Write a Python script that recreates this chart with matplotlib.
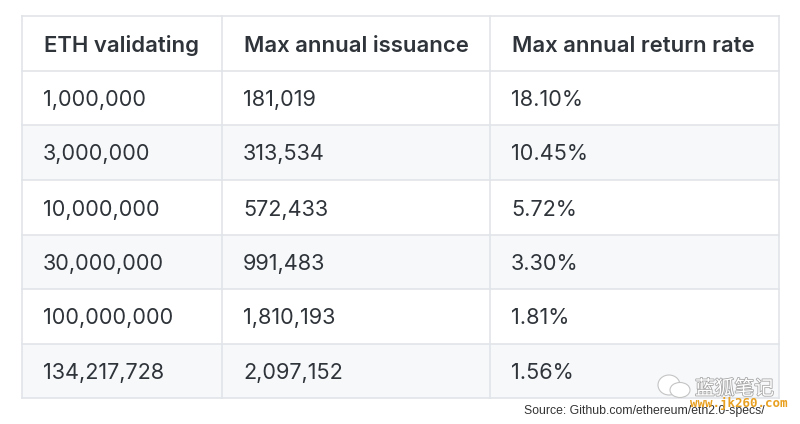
import matplotlib
matplotlib.use('Agg')
import matplotlib.pyplot as plt
import matplotlib.patheffects as pe
from matplotlib.patches import Ellipse, Rectangle

headers = ['ETH validating', 'Max annual issuance', 'Max annual return rate']
eth_validating = ['1,000,000', '3,000,000', '10,000,000', '30,000,000', '100,000,000', '134,217,728']
max_issuance = ['181,019', '313,534', '572,433', '991,483', '1,810,193', '2,097,152']
max_return = ['18.10%', '10.45%', '5.72%', '3.30%', '1.81%', '1.56%']
source = 'Source: Github.com/ethereum/eth2.0-specs/'

col_edges = [22, 222, 490, 779]
row_edges = [16, 71, 125, 180, 235, 289, 344, 398]
line_col = '#e1e4e8'
text_col = '#2f343a'

plt.rcParams['font.family'] = ['Inter', 'DejaVu Sans']

fig = plt.figure(figsize=(8, 4.24), dpi=100)
ax = fig.add_axes([0, 0, 1, 1])
ax.set_xlim(0, 800)
ax.set_ylim(424, 0)
ax.axis('off')

# striped rows
for i in range(len(eth_validating)):
    if i % 2 == 1:
        ax.add_patch(Rectangle((col_edges[0], row_edges[i + 1]), col_edges[-1] - col_edges[0],
                               row_edges[i + 2] - row_edges[i + 1], color='#f6f8fa', lw=0, zorder=0))

# grid
for y in row_edges:
    ax.plot([col_edges[0], col_edges[-1]], [y, y], color=line_col, lw=1.2, zorder=1)
for x in col_edges:
    ax.plot([x, x], [row_edges[0], row_edges[-1]], color=line_col, lw=1.2, zorder=1)

# header and body
for j, h in enumerate(headers):
    ax.text(col_edges[j] + 22, (row_edges[0] + row_edges[1]) / 2 + 2, h, fontsize=15.9,
            fontweight='semibold', color=text_col, va='center', ha='left')
for i in range(len(eth_validating)):
    yc = (row_edges[i + 1] + row_edges[i + 2]) / 2 + 2
    row = [eth_validating[i], max_issuance[i], max_return[i]]
    for j, s in enumerate(row):
        ax.text(col_edges[j] + 21, yc, s, fontsize=15.6, color=text_col, va='center', ha='left')

ax.text(524, 411, source, fontsize=8.8, color='#333333', family='Liberation Sans', va='center', ha='left')

# watermark
halo = [pe.withStroke(linewidth=1.2, foreground='#a8a8a8')]
ax.add_patch(Ellipse((669, 385), 22, 20, fc='white', ec='#c4c4c4', lw=0.8, zorder=3))
ax.add_patch(Ellipse((680, 390), 20, 15, fc='white', ec='#c4c4c4', lw=0.8, zorder=3))
ax.text(695, 389, '蓝狐笔记', fontsize=14.2, color='white', family=['Noto Sans CJK SC', 'DejaVu Sans'],
        va='center', ha='left', path_effects=halo, zorder=4)
ax.text(690, 404, 'www.jk260.com', fontsize=9, color='#e8a020', fontweight='bold',
        family='DejaVu Sans Mono', va='center', ha='left', zorder=5)

fig.savefig('out.png', dpi=100)
